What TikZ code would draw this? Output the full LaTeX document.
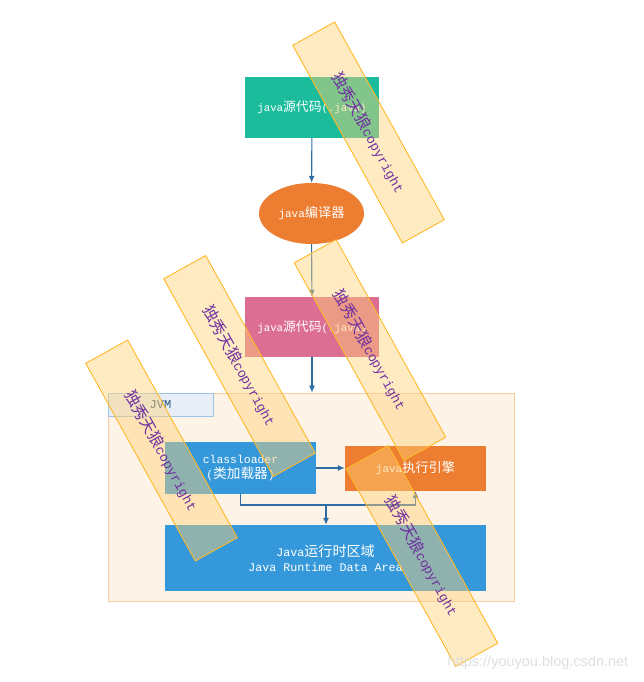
\documentclass[tikz,border=0pt]{standalone}
\usepackage{fontspec}
\setmainfont{Liberation Mono}
\newfontfamily\cjk{Noto Sans CJK SC}[Scale=1.2]
\newfontfamily\urlfont{Liberation Sans}
\usetikzlibrary{arrows.meta,shapes.geometric}
\definecolor{SourceTeal}{RGB}{26,188,156}
\definecolor{CompilerOrange}{RGB}{237,125,49}
\definecolor{ClassPink}{RGB}{220,109,147}
\definecolor{LoaderBlue}{RGB}{52,152,219}
\definecolor{JvmPeach}{RGB}{254,243,231}
\definecolor{JvmEdge}{RGB}{248,203,163}
\definecolor{TagBlue}{RGB}{231,238,248}
\definecolor{TagEdge}{RGB}{157,195,230}
\definecolor{TagText}{RGB}{47,85,120}
\definecolor{ArrowBlue}{RGB}{46,109,164}
\definecolor{WmFill}{RGB}{255,210,120}
\definecolor{WmEdge}{RGB}{255,185,40}
\definecolor{WmText}{RGB}{112,48,160}
\definecolor{UrlGray}{RGB}{222,222,222}
\newcommand{\zh}[1]{{\cjk #1}}

\begin{document}
\begin{tikzpicture}[x=1pt,y=1pt,>={Latex[length=7pt,width=6pt]},
    box/.style={rectangle,inner sep=0pt,text=white,align=center},
    link/.style={->,ArrowBlue,line width=1.1pt},
    wmark/.style={rectangle,draw=WmEdge,line width=0.9pt,fill=WmFill,
      fill opacity=0.45,text opacity=1,text=WmText,inner sep=0pt,
      minimum width=226pt,minimum height=48pt,
      font=\fontsize{13.2}{15}\selectfont}]
  \useasboundingbox (0,0) rectangle (644,682);
  % compile chain
  \node[box,fill=SourceTeal,minimum width=134pt,minimum height=61pt,
    font=\fontsize{10.7}{13}\selectfont] (src) at (312,574.5) {java\zh{源代码}(.java)};
  \node[box,ellipse,fill=CompilerOrange,minimum width=105pt,minimum height=61pt,
    font=\fontsize{11}{13}\selectfont] (javac) at (311.5,468.5) {java\zh{编译器}};
  \node[box,fill=ClassPink,minimum width=134pt,minimum height=60pt,
    font=\fontsize{10.7}{13}\selectfont] (cls) at (312,355) {java\zh{源代码}(.java)};
  % JVM
  \node[rectangle,draw=JvmEdge,line width=0.8pt,fill=JvmPeach,inner sep=0pt,
    minimum width=406pt,minimum height=208pt] (jvm) at (311,185) {};
  \node[rectangle,draw=TagEdge,line width=0.8pt,fill=TagBlue,inner sep=0pt,
    minimum width=105pt,minimum height=23pt,text=TagText,
    font=\fontsize{12}{14}\selectfont] (jvmtag) at (160.5,277.5) {JVM};
  \node[box,fill=LoaderBlue,minimum width=151pt,minimum height=52pt,
    font=\fontsize{11.4}{15}\selectfont] (loader) at (240.5,214)
    {classloader\\(\zh{类加载器})};
  \node[box,fill=CompilerOrange,minimum width=141pt,minimum height=45pt,
    font=\fontsize{11}{13}\selectfont] (engine) at (415.5,213.5) {java\zh{执行引擎}};
  \node[box,fill=LoaderBlue,minimum width=321pt,minimum height=66pt,
    font=\fontsize{11.7}{15.5}\selectfont] (runtime) at (325.5,124)
    {Java\zh{运行时区域}\\Java Runtime Data Area};
  \coordinate (split) at (326,177);
  \draw[link] (src) -- (javac);
  \draw[link] (javac) -- (cls);
  \draw[link] (cls.south) -- (cls.south |- jvm.north);
  \draw[link] (loader.east) -- (loader.east -| engine.west);
  \draw[ArrowBlue,line width=1.1pt] (loader.south) |- (split);
  \draw[link] (split) -- (split |- runtime.north);
  \draw[link] (split) -| (engine.south);
  % watermarks
  \node[wmark,rotate=-61] (wmA) at (368.5,549.5) {\zh{独秀天狼}copyright};
  \node[wmark,rotate=-61] (wmB) at (239.5,316) {\zh{独秀天狼}copyright};
  \node[wmark,rotate=-61] (wmC) at (370,332) {\zh{独秀天狼}copyright};
  \node[wmark,rotate=-61] (wmD) at (161.5,231.5) {\zh{独秀天狼}copyright};
  \node[wmark,rotate=-61] (wmE) at (422,126) {\zh{独秀天狼}copyright};
  \node[text=UrlGray,inner sep=0pt,font=\urlfont\fontsize{14.5}{16}\selectfont]
    (url) at (538,19) {https://youyou.blog.csdn.net};
\end{tikzpicture}
\end{document}
